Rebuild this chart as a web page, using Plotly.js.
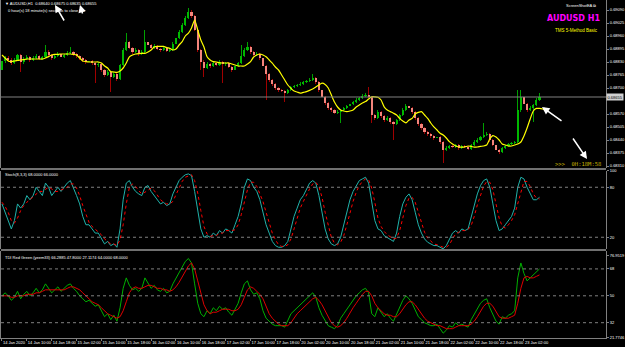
<!DOCTYPE html>
<html><head><meta charset="utf-8">
<script src="https://cdn.plot.ly/plotly-3.0.1.min.js"></script>
<style>html,body{margin:0;padding:0;background:#000;}#chart{width:625px;height:347px;}</style>
</head><body><div id="chart"></div>
<script>
// ---- data ----
const timeLabels = ["14 Jan 2020","14 Jan 10:00","14 Jan 18:00","15 Jan 02:00","15 Jan 10:00","15 Jan 18:00","16 Jan 02:00","16 Jan 10:00","16 Jan 18:00","17 Jan 02:00","17 Jan 10:00","17 Jan 18:00","20 Jan 02:00","20 Jan 10:00","20 Jan 18:00","21 Jan 02:00","21 Jan 10:00","21 Jan 18:00","22 Jan 02:00","22 Jan 10:00","22 Jan 18:00","23 Jan 02:00"];
const priceTicks = [0.69090,0.69025,0.68960,0.68895,0.68830,0.68765,0.68700,0.68570,0.68505,0.68440,0.68375,0.68310];
const stochLevels = [80,20];
const tdiLevels = [68,50,32];

const open = [0.68790,0.68835,0.68850,0.68840,0.68825,0.68840,0.68865,0.68830,0.68845,0.68855,
0.68840,0.68850,0.68860,0.68845,0.68855,0.68880,0.68865,0.68850,0.68860,0.68870,
0.68855,0.68865,0.68875,0.68880,0.68870,0.68860,0.68850,0.68840,0.68830,0.68835,
0.68825,0.68815,0.68820,0.68790,0.68765,0.68780,0.68755,0.68770,0.68745,0.68815,
0.68890,0.68930,0.68900,0.68880,0.68890,0.68870,0.68880,0.68930,0.68915,0.68900,
0.68910,0.68895,0.68890,0.68900,0.68885,0.68890,0.68920,0.68950,0.68980,0.69015,
0.69050,0.69080,0.69060,0.68990,0.68890,0.68830,0.68800,0.68820,0.68810,0.68825,
0.68815,0.68830,0.68820,0.68825,0.68805,0.68790,0.68810,0.68825,0.68860,0.68890,
0.68905,0.68880,0.68865,0.68870,0.68850,0.68810,0.68770,0.68740,0.68720,0.68700,
0.68690,0.68685,0.68675,0.68690,0.68705,0.68710,0.68715,0.68720,0.68730,0.68735,
0.68740,0.68750,0.68730,0.68690,0.68655,0.68625,0.68600,0.68590,0.68575,0.68580,
0.68590,0.68600,0.68610,0.68620,0.68630,0.68640,0.68650,0.68660,0.68665,0.68655,
0.68565,0.68550,0.68580,0.68560,0.68540,0.68550,0.68530,0.68520,0.68540,0.68565,
0.68590,0.68610,0.68600,0.68580,0.68550,0.68520,0.68500,0.68480,0.68470,0.68460,
0.68450,0.68455,0.68430,0.68390,0.68400,0.68410,0.68405,0.68415,0.68400,0.68410,
0.68405,0.68395,0.68415,0.68430,0.68440,0.68455,0.68465,0.68470,0.68440,0.68415,
0.68390,0.68380,0.68400,0.68410,0.68420,0.68425,0.68430,0.68590,0.68655,0.68620,
0.68590,0.68600,0.68615,0.68640];
const close = [0.68835,0.68850,0.68840,0.68825,0.68840,0.68865,0.68830,0.68845,0.68855,0.68840,
0.68850,0.68860,0.68845,0.68855,0.68880,0.68865,0.68850,0.68860,0.68870,0.68855,
0.68865,0.68875,0.68880,0.68870,0.68860,0.68850,0.68840,0.68830,0.68835,0.68825,
0.68815,0.68820,0.68790,0.68765,0.68780,0.68755,0.68770,0.68745,0.68815,0.68890,
0.68930,0.68900,0.68880,0.68890,0.68870,0.68880,0.68930,0.68915,0.68900,0.68910,
0.68895,0.68890,0.68900,0.68885,0.68890,0.68920,0.68950,0.68980,0.69015,0.69050,
0.69080,0.69060,0.68990,0.68890,0.68830,0.68800,0.68820,0.68810,0.68825,0.68815,
0.68830,0.68820,0.68825,0.68805,0.68790,0.68810,0.68825,0.68860,0.68890,0.68905,
0.68880,0.68865,0.68870,0.68850,0.68810,0.68770,0.68740,0.68720,0.68700,0.68690,
0.68685,0.68675,0.68690,0.68705,0.68710,0.68715,0.68720,0.68730,0.68735,0.68740,
0.68750,0.68730,0.68690,0.68655,0.68625,0.68600,0.68590,0.68575,0.68580,0.68590,
0.68600,0.68610,0.68620,0.68630,0.68640,0.68650,0.68660,0.68665,0.68655,0.68565,
0.68550,0.68580,0.68560,0.68540,0.68550,0.68530,0.68520,0.68540,0.68565,0.68590,
0.68610,0.68600,0.68580,0.68550,0.68520,0.68500,0.68480,0.68470,0.68460,0.68450,
0.68455,0.68430,0.68390,0.68400,0.68410,0.68405,0.68415,0.68400,0.68410,0.68405,
0.68395,0.68415,0.68430,0.68440,0.68455,0.68465,0.68470,0.68440,0.68415,0.68390,
0.68380,0.68400,0.68410,0.68420,0.68425,0.68430,0.68590,0.68655,0.68620,0.68590,
0.68600,0.68615,0.68640,0.68655];
const high = [0.68850,0.68860,0.68858,0.68848,0.68850,0.68872,0.68870,0.68855,0.68866,0.68860,
0.68858,0.68870,0.68865,0.68862,0.68915,0.68888,0.68870,0.68868,0.68878,0.68875,
0.68872,0.68885,0.68905,0.68886,0.68875,0.68865,0.68856,0.68845,0.68842,0.68840,
0.68832,0.68828,0.68825,0.68795,0.68788,0.68785,0.68778,0.68775,0.68820,0.68898,
0.68975,0.68935,0.68905,0.68898,0.68895,0.68888,0.68990,0.68938,0.68920,0.68918,
0.68915,0.68900,0.68908,0.68905,0.68898,0.68928,0.68958,0.68990,0.69025,0.69060,
0.69100,0.69090,0.69065,0.68995,0.68895,0.68838,0.68828,0.68826,0.68832,0.68830,
0.68838,0.68835,0.68832,0.68830,0.68810,0.68816,0.68832,0.68915,0.68898,0.68930,
0.68910,0.68885,0.68878,0.68875,0.68855,0.68815,0.68775,0.68745,0.68725,0.68705,
0.68695,0.68690,0.68696,0.68710,0.68716,0.68722,0.68728,0.68736,0.68742,0.68748,
0.68770,0.68755,0.68735,0.68695,0.68660,0.68630,0.68605,0.68595,0.68588,0.68596,
0.68606,0.68616,0.68628,0.68636,0.68648,0.68656,0.68668,0.68675,0.68705,0.68660,
0.68570,0.68588,0.68585,0.68565,0.68558,0.68555,0.68535,0.68546,0.68572,0.68598,
0.68618,0.68675,0.68605,0.68585,0.68555,0.68525,0.68505,0.68486,0.68475,0.68466,
0.68462,0.68460,0.68435,0.68408,0.68416,0.68415,0.68422,0.68420,0.68416,0.68415,
0.68410,0.68422,0.68438,0.68448,0.68462,0.68525,0.68478,0.68475,0.68445,0.68420,
0.68395,0.68406,0.68416,0.68426,0.68432,0.68436,0.68690,0.68690,0.68662,0.68625,
0.68608,0.68620,0.68648,0.68675];
const low = [0.68760,0.68825,0.68830,0.68815,0.68818,0.68835,0.68780,0.68822,0.68840,0.68832,
0.68835,0.68845,0.68838,0.68840,0.68850,0.68858,0.68840,0.68845,0.68855,0.68848,
0.68850,0.68860,0.68868,0.68862,0.68852,0.68842,0.68832,0.68822,0.68825,0.68815,
0.68725,0.68805,0.68780,0.68755,0.68760,0.68680,0.68748,0.68735,0.68740,0.68810,
0.68885,0.68895,0.68872,0.68875,0.68862,0.68865,0.68875,0.68905,0.68892,0.68895,
0.68888,0.68882,0.68885,0.68878,0.68880,0.68885,0.68915,0.68945,0.68975,0.69010,
0.69045,0.69050,0.68985,0.68880,0.68790,0.68755,0.68795,0.68802,0.68805,0.68808,
0.68810,0.68725,0.68812,0.68798,0.68782,0.68785,0.68805,0.68820,0.68855,0.68885,
0.68872,0.68858,0.68860,0.68842,0.68800,0.68640,0.68730,0.68712,0.68692,0.68682,
0.68678,0.68630,0.68670,0.68685,0.68700,0.68705,0.68710,0.68715,0.68725,0.68730,
0.68735,0.68722,0.68682,0.68645,0.68615,0.68592,0.68580,0.68568,0.68570,0.68525,
0.68585,0.68595,0.68605,0.68615,0.68625,0.68635,0.68645,0.68655,0.68650,0.68525,
0.68540,0.68545,0.68552,0.68532,0.68535,0.68522,0.68440,0.68515,0.68535,0.68560,
0.68585,0.68595,0.68572,0.68540,0.68510,0.68490,0.68472,0.68462,0.68452,0.68442,
0.68445,0.68420,0.68325,0.68385,0.68395,0.68398,0.68400,0.68392,0.68395,0.68398,
0.68388,0.68390,0.68410,0.68425,0.68435,0.68450,0.68460,0.68432,0.68408,0.68382,
0.68372,0.68375,0.68395,0.68405,0.68415,0.68420,0.68425,0.68580,0.68612,0.68582,
0.68585,0.68530,0.68610,0.68635];
const maLine = [0.68865,0.68850,0.68835,0.68832,0.68835,0.68838,0.68840,0.68842,0.68845,0.68845,
0.68845,0.68845,0.68845,0.68845,0.68850,0.68857,0.68865,0.68868,0.68868,0.68870,
0.68870,0.68870,0.68870,0.68868,0.68865,0.68850,0.68835,0.68832,0.68830,0.68830,
0.68830,0.68830,0.68825,0.68810,0.68800,0.68782,0.68780,0.68778,0.68785,0.68800,
0.68825,0.68856,0.68865,0.68870,0.68872,0.68873,0.68873,0.68880,0.68890,0.68905,
0.68908,0.68908,0.68908,0.68902,0.68898,0.68890,0.68895,0.68915,0.68932,0.68960,
0.68974,0.69000,0.69040,0.68990,0.68940,0.68905,0.68856,0.68840,0.68832,0.68830,
0.68826,0.68825,0.68825,0.68825,0.68820,0.68815,0.68810,0.68810,0.68810,0.68820,
0.68832,0.68855,0.68865,0.68870,0.68865,0.68856,0.68840,0.68824,0.68805,0.68790,
0.68765,0.68740,0.68715,0.68698,0.68685,0.68680,0.68674,0.68678,0.68682,0.68688,
0.68695,0.68705,0.68715,0.68724,0.68718,0.68700,0.68665,0.68630,0.68605,0.68590,
0.68585,0.68582,0.68585,0.68590,0.68605,0.68615,0.68625,0.68632,0.68645,0.68656,
0.68656,0.68654,0.68640,0.68606,0.68590,0.68582,0.68574,0.68565,0.68548,0.68535,
0.68526,0.68540,0.68548,0.68570,0.68578,0.68582,0.68565,0.68548,0.68525,0.68506,
0.68490,0.68474,0.68465,0.68450,0.68432,0.68420,0.68410,0.68405,0.68404,0.68405,
0.68410,0.68408,0.68404,0.68405,0.68408,0.68410,0.68415,0.68445,0.68462,0.68455,
0.68440,0.68420,0.68415,0.68410,0.68410,0.68415,0.68420,0.68430,0.68460,0.68500,
0.68545,0.68585,0.68598,0.68598,0.68595,0.68590,0.68592];
const stochMain = [60,50,40,30,40,60,55,60,70,65,70,80,75,70,85,80,70,75,80,75,
80,85,88,80,70,60,45,35,35,30,25,25,18,12,15,10,12,8,30,65,
85,88,80,75,72,70,80,82,75,70,65,60,62,58,60,72,80,88,92,95,
96,94,75,50,30,20,22,20,25,22,28,25,30,28,25,35,45,60,80,90,
88,80,75,65,50,35,25,15,10,8,8,10,15,30,45,55,65,70,78,85,
88,85,70,50,30,18,12,10,12,20,35,50,65,75,82,88,90,92,85,60,
40,30,28,22,20,18,15,25,45,60,68,72,65,50,35,25,18,14,12,10,
10,8,6,10,18,25,28,25,30,28,30,45,60,72,82,88,90,80,60,40,
28,30,35,40,45,55,80,92,90,80,72,65,65,68];
const stochSignal = [62,57,50,40,37,43,52,58,62,65,68,72,75,75,77,80,78,75,75,77,
78,80,84,84,79,70,58,47,38,33,30,27,23,18,15,12,12,10,17,35,
60,80,84,81,76,72,74,77,79,76,70,65,62,60,60,63,71,80,87,92,
94,95,88,73,52,33,24,21,22,22,25,25,28,28,28,29,35,47,62,77,
86,86,81,73,63,50,37,25,17,11,9,9,11,18,30,43,55,63,71,78,
84,86,81,68,50,33,20,13,11,14,22,35,50,63,74,82,87,90,89,79,
62,43,33,27,23,20,18,19,28,43,58,67,68,62,50,37,26,19,15,12,
11,9,8,8,11,18,24,26,28,28,29,34,45,59,71,81,87,86,77,60,
43,33,31,35,40,47,60,76,87,87,81,72,67,66];
const tdiGreen = [50,52,50,47,49,53,48,51,53,50,52,55,52,54,58,55,52,54,56,53,
55,57,58,55,53,50,48,46,47,45,43,44,40,36,38,34,37,33,42,55,
62,57,54,55,53,55,62,58,55,57,54,53,55,52,53,58,62,66,70,73,
75,72,58,45,38,36,40,38,42,40,43,41,42,39,37,41,45,52,58,60,
54,51,52,48,40,35,33,31,30,30,30,29,33,38,40,42,44,46,48,50,
52,49,42,37,33,30,29,28,30,35,38,41,44,47,50,52,54,55,52,38,
36,42,39,36,38,35,33,38,43,47,50,48,45,40,36,34,32,31,30,30,
31,28,25,27,30,29,32,30,31,30,29,34,38,41,45,47,48,42,37,33,
31,36,35,37,38,40,62,72,65,60,62,64,66,68];
const tdiRed = [50,50,50,49,49,50,50,50,51,51,51,52,52,53,54,54,54,54,54,54,
54,55,56,56,55,54,52,50,48,46,45,44,42,40,38,37,36,35,36,40,
46,52,55,56,55,55,56,57,57,56,55,55,54,54,53,54,56,59,63,67,
70,72,68,60,51,44,40,38,39,39,40,41,41,41,40,40,41,44,49,54,
56,55,53,51,48,43,38,35,33,31,30,30,30,32,35,38,40,42,44,46,
48,49,47,44,40,36,32,30,29,30,32,35,39,42,45,48,51,53,53,50,
45,42,40,38,37,37,36,36,38,41,44,46,46,44,41,38,35,33,32,31,
30,30,29,28,28,28,29,30,30,30,30,31,33,36,40,43,45,45,43,39,
36,35,35,35,36,37,45,55,62,63,62,62,63,64];

// ---- drawing ----
const n = close.length;
const idx = close.map((_, i) => i);
const maIdx = maLine.map((_, i) => i);
const bull = close.map((c, i) => c >= open[i]);
const last = n - 1;

const W = 625, H = 347, ML = 1, MR = 19, MT = 0, MB = 9;
const PW = W - ML - MR, PH = H - MT - MB;
const px = x => (x - ML) / PW;
const py = y => 1 - (y - MT) / PH;

const wick = {type:'bar', x: idx, base: low, y: high.map((h, i) => h - low[i]), width: 0.3,
  marker:{color: bull.map(b => b ? '#00a000' : '#a00000'), line:{width:0}, opacity:1},
  xaxis:'x', yaxis:'y', hoverinfo:'skip'};
const body = {type:'bar', x: idx, base: open.map((o, i) => Math.min(o, close[i])),
  y: open.map((o, i) => Math.max(Math.abs(close[i] - o), 0.00003)), width: 0.68,
  marker:{color: bull.map(b => b ? '#00b800' : '#f4847c'), line:{width:0}, opacity:1},
  xaxis:'x', yaxis:'y', hoverinfo:'skip'};
const ma = {type:'scatter', mode:'lines', x: maIdx, y: maLine, line:{color:'#ffff00', width:1.2, shape:'spline', smoothing:0.6}, xaxis:'x', yaxis:'y'};
const stK = {type:'scatter', mode:'lines', x: idx, y: stochMain, line:{color:'#20b2aa', width:1}, xaxis:'x', yaxis:'y2'};
const stD = {type:'scatter', mode:'lines', x: idx, y: stochSignal, line:{color:'#ff0000', width:1, dash:'dot'}, xaxis:'x', yaxis:'y2'};
const tG = {type:'scatter', mode:'lines', x: idx, y: tdiGreen, line:{color:'#00b000', width:1}, xaxis:'x', yaxis:'y3'};
const tR = {type:'scatter', mode:'lines', x: idx, y: tdiRed, line:{color:'#e00000', width:1}, xaxis:'x', yaxis:'y3'};

const axCommon = {showgrid:false, zeroline:false, showline:true, linecolor:'#808080', linewidth:1,
  ticks:'outside', ticklen:2, tickcolor:'#808080', tickfont:{size:4, color:'#ffffff', family:'Liberation Sans'}, fixedrange:true};

const shapes = [
  {type:'rect', xref:'paper', yref:'paper', x0:0, x1:1, y0:py(170), y1:py(168), fillcolor:'#707070', line:{width:0}},
  {type:'rect', xref:'paper', yref:'paper', x0:0, x1:1, y0:py(251), y1:py(249), fillcolor:'#707070', line:{width:0}},
  {type:'line', xref:'paper', yref:'y', x0:0, x1:1, y0:close[last], y1:close[last], line:{color:'#808080', width:1}}
];
stochLevels.forEach(v => shapes.push({type:'line', xref:'paper', yref:'y2', x0:0, x1:1, y0:v, y1:v, line:{color:'#808080', width:1, dash:'dot'}}));
tdiLevels.forEach(v => shapes.push({type:'line', xref:'paper', yref:'y3', x0:0, x1:1, y0:v, y1:v, line:{color:'#808080', width:1, dash:'dot'}}));

const f = (s, c) => ({family:'Liberation Sans, Arial, sans-serif', size:s, color:c || '#ffffff'});
const arrow = (tx, ty, ax, ay) => ({xref:'paper', yref:'paper', x:px(tx), y:py(ty), ax:ax, ay:ay, text:'', showarrow:true,
  arrowhead:2, arrowsize:1, arrowwidth:1.5, arrowcolor:'#ffffff'});

const annotations = [
  {xref:'paper', yref:'paper', x:px(3), y:py(4), xanchor:'left', yanchor:'middle', showarrow:false, font:f(4),
   text:'▼ AUDUSD,H1  ' + [open[last], high[last], low[last], close[last]].map(v => v.toFixed(5)).join(' ')},
  {xref:'paper', yref:'paper', x:px(6), y:py(10), xanchor:'left', yanchor:'middle', showarrow:false, font:f(4),
   text:'0 hour(s) 18 minute(s) seconds to close bar'},
  {xref:'paper', yref:'paper', x:px(598), y:py(6), xanchor:'right', yanchor:'middle', showarrow:false, font:f(4),
   text:'ScreenShotEA ⧉'},
  {xref:'paper', yref:'paper', x:px(602), y:py(19), xanchor:'right', yanchor:'middle', showarrow:false,
   font:{family:'DejaVu Sans, sans-serif', size:8, color:'#ff00ff'}, text:'<b>AUDUSD H1</b>'},
  {xref:'paper', yref:'paper', x:px(600), y:py(30), xanchor:'right', yanchor:'middle', showarrow:false, font:f(4.5, '#ffff00'),
   text:'TMS 5-Method Basic'},
  {xref:'paper', yref:'paper', x:px(603), y:py(164), xanchor:'right', yanchor:'middle', showarrow:false,
   font:{family:'DejaVu Sans Mono, monospace', size:5.5, color:'#c8b400'}, text:'>>>  0H:18M:58'},
  {xref:'paper', yref:'paper', x:px(3), y:py(174), xanchor:'left', yanchor:'middle', showarrow:false, font:f(4),
   text:'Stoch(8,3,3) ' + stochMain[last].toFixed(4) + ' ' + stochSignal[last].toFixed(4)},
  {xref:'paper', yref:'paper', x:px(3), y:py(257), xanchor:'left', yanchor:'middle', showarrow:false, font:f(4),
   text:'TDI Red Green (yeem33) 66.2885 47.8000 27.1174 ' + tdiRed[last].toFixed(4) + ' ' + tdiGreen[last].toFixed(4)},
  {xref:'paper', yref:'y', x:1, y:close[last], xanchor:'left', yanchor:'middle', showarrow:false, font:{family:'Liberation Sans', size:4, color:'#000000'},
   bgcolor:'#d0d0d0', borderpad:0.5, text:close[last].toFixed(5)},
  arrow(55, 5, 10, 17),
  arrow(80, 5, 3, 10),
  arrow(542, 107, 21, 15),
  arrow(587, 159, -15, -22)
];

const layout = {
  width:W, height:H, margin:{l:ML, r:MR, t:MT, b:MB, pad:0},
  paper_bgcolor:'#000000', plot_bgcolor:'#000000', showlegend:false,
  barmode:'overlay', bargap:0,
  xaxis: Object.assign({}, axCommon, {anchor:'y3', range:[-0.32, 194.4], tickangle:0, automargin:false,
    tickvals: timeLabels.map((_, k) => k * 8), ticktext: timeLabels, ticklabelposition:'outside right'}),
  yaxis: Object.assign({}, axCommon, {domain:[py(168), 1], anchor:'x', side:'right', mirror:true, range:[0.68300, 0.69140],
    tickvals: priceTicks, ticktext: priceTicks.map(v => v.toFixed(5))}),
  yaxis2: Object.assign({}, axCommon, {domain:[py(249), py(170.5)], anchor:'x', side:'right', mirror:true, range:[5.9, 100.1],
    tickvals:[100].concat(stochLevels), ticktext:['100'].concat(stochLevels.map(String))}),
  yaxis3: Object.assign({}, axCommon, {domain:[0, py(251)], anchor:'x', side:'right', mirror:true, range:[21.75, 80],
    tickvals:[76.9519].concat(tdiLevels, [21.7746]), ticktext:['76.9519'].concat(tdiLevels.map(String), ['21.7746'])}),
  shapes: shapes, annotations: annotations
};

Plotly.newPlot('chart', [wick, body, ma, stK, stD, tG, tR], layout, {staticPlot:true, displayModeBar:false});
</script>
</body></html>
